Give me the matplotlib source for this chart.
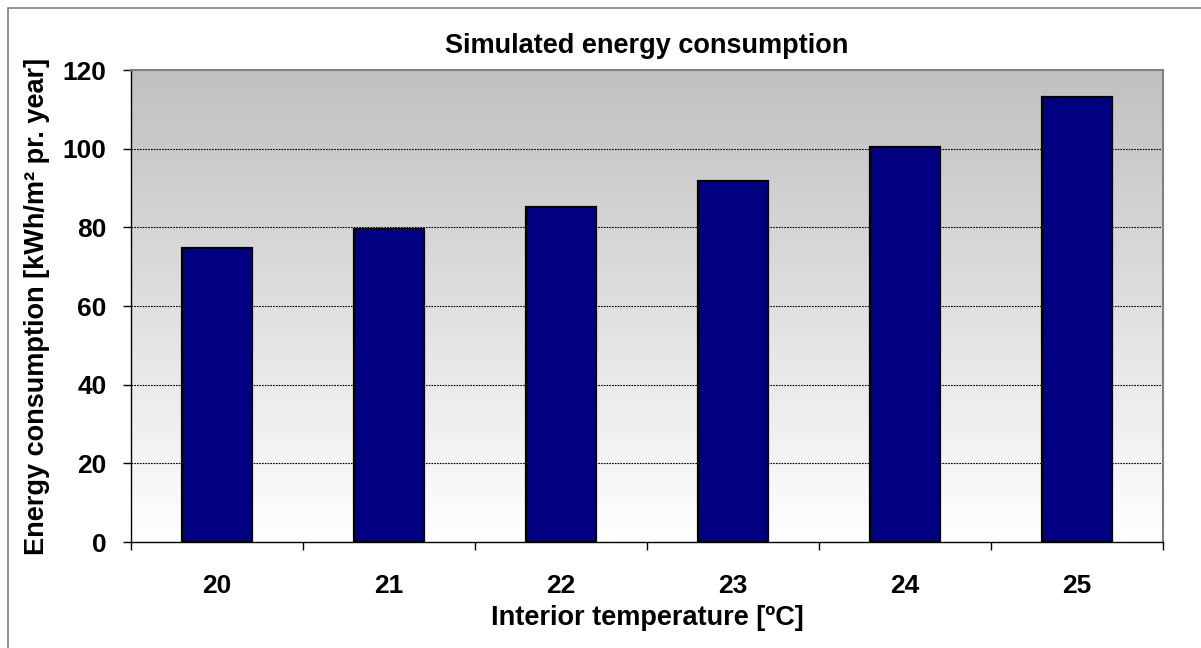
import numpy as np
import matplotlib
matplotlib.use("Agg")
import matplotlib.pyplot as plt
from matplotlib.patches import Rectangle
from matplotlib.colors import LinearSegmentedColormap

categories = ["20", "21", "22", "23", "24", "25"]
values = [74.8, 79.6, 85.1, 91.7, 100.4, 113.2]
yticks = [0, 20, 40, 60, 80, 100, 120]

plt.rcParams['font.family'] = ['Liberation Sans', 'DejaVu Sans']
plt.rcParams['font.weight'] = 'bold'

W, H = 1201, 648
fig = plt.figure(figsize=(W / 100, H / 100), dpi=100)
fig.patch.set_facecolor('white')

# outer frame
fig.patches.append(Rectangle((8 / W, -0.05), 1.1, (H - 8) / H + 0.05, transform=fig.transFigure,
                             fill=False, edgecolor='#808080', linewidth=1.2))

left, right, top, bottom = 131, 1163, 70, 542
ax = fig.add_axes([left / W, (H - bottom) / H, (right - left) / W, (bottom - top) / H])

x = np.arange(len(categories))
ax.set_xlim(-0.5, len(categories) - 0.5)
ax.set_ylim(0, 120)

# gradient background
cmap = LinearSegmentedColormap.from_list('g', ['#ffffff', '#c0c0c0'])
grad = np.linspace(0, 1, 256).reshape(-1, 1)
ax.imshow(grad, extent=[-0.5, len(categories) - 0.5, 0, 120], origin='lower',
          aspect='auto', cmap=cmap, zorder=0)

for yv in yticks[1:-1]:
    ax.axhline(yv, color='black', linewidth=0.8, linestyle=(0, (1.5, 1.0)), zorder=1)

ax.bar(x, values, width=0.41, color='#000080', edgecolor='black', linewidth=1.6, zorder=3)

for s in ['top', 'right']:
    ax.spines[s].set_color('#808080')
    ax.spines[s].set_linewidth(1.5)
for s in ['left', 'bottom']:
    ax.spines[s].set_color('black')
    ax.spines[s].set_linewidth(1.0)

FS = 19
ax.set_yticks(yticks)
ax.set_yticklabels([str(v) for v in yticks], fontsize=FS, fontweight='bold')
ax.tick_params(axis='y', direction='out', length=6, width=1, pad=11.5)

ax.set_xticks(np.arange(-0.5, len(categories)), minor=False)
ax.set_xticklabels([])
ax.set_xticks(x, minor=True)
ax.set_xticklabels(categories, minor=True, fontsize=FS, fontweight='bold')
ax.tick_params(axis='x', which='major', direction='out', length=5.5, width=1)
ax.tick_params(axis='x', which='minor', length=0, pad=23)

ax.set_xlabel('Interior temperature [ºC]', fontsize=19.5, fontweight='bold', labelpad=5)
ax.set_ylabel('Energy consumption [kWh/m² pr. year]', fontsize=19.5, fontweight='bold', labelpad=9)
ax.set_title('Simulated energy consumption', fontsize=19.5, fontweight='bold', pad=12.5)

fig.savefig('out.png', dpi=100)
